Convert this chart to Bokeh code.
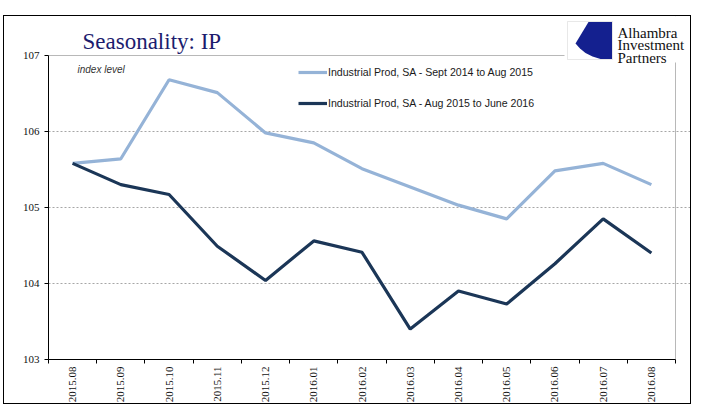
import numpy as np
from bokeh.plotting import figure
from bokeh.models import (FixedTicker, Range1d, Label, Legend, LegendItem,
                          PolyAnnotation, ColumnDataSource, Grid)
from bokeh.embed import file_html
from bokeh.resources import INLINE

# ---- data ----
months = ["2015.08", "2015.09", "2015.10", "2015.11", "2015.12", "2016.01",
          "2016.02", "2016.03", "2016.04", "2016.05", "2016.06", "2016.07", "2016.08"]
ip_sep14_aug15 = [105.58, 105.64, 106.68, 106.51, 105.98, 105.85, 105.51,
                  105.27, 105.03, 104.85, 105.48, 105.58, 105.30]
ip_aug15_jun16 = [105.58, 105.30, 105.17, 104.49, 104.04, 104.56, 104.41,
                  103.40, 103.90, 103.73, 104.26, 104.85, 104.40]
y_ticks = [103, 104, 105, 106, 107]
series_names = ["Industrial Prod, SA - Sept 2014 to Aug 2015",
                "Industrial Prod, SA - Aug 2015 to June 2016"]

n = len(months)
centers = [i + 0.5 for i in range(n)]
bounds = list(range(n + 1))

src = ColumnDataSource(dict(x=centers, a=ip_sep14_aug15, b=ip_aug15_jun16))

# layout (pixels)
W, H = 688, 389
left_b, bottom_b = 44, 45
plot_w, plot_h = 627, 305          # visible plot area (axes extent)
frame_w, frame_h = W - left_b, H - bottom_b
x_end = n * frame_w / plot_w
y_end = y_ticks[0] + (y_ticks[-1] - y_ticks[0]) * frame_h / plot_h

p = figure(width=W, height=H, output_backend="svg", toolbar_location=None,
           x_range=Range1d(0, x_end), y_range=Range1d(y_ticks[0], y_end),
           min_border_left=left_b, min_border_right=0, min_border_top=0,
           min_border_bottom=bottom_b, background_fill_color="white",
           border_fill_color="white", outline_line_color=None)
p.styles = {"margin-left": "3px", "margin-top": "15px", "border": "1px solid black"}

light = "#95b3d7"
dark = "#1b3657"
r1 = p.line("x", "a", source=src, line_color=light, line_width=3.2)
r2 = p.line("x", "b", source=src, line_color=dark, line_width=3.2)

# axes
p.xaxis.bounds = (0, n)
p.xaxis.ticker = FixedTicker(ticks=centers, minor_ticks=bounds)
p.xaxis.major_label_overrides = {c: m for c, m in zip(centers, months)}
p.xaxis.major_label_orientation = np.pi / 2
p.xaxis.major_tick_line_color = None
p.xaxis.major_tick_in = 0
p.xaxis.major_tick_out = 4
p.xaxis.minor_tick_in = 0
p.xaxis.minor_tick_out = 4
p.xaxis.minor_tick_line_color = "black"
p.xaxis.major_label_standoff = 3
p.xaxis.axis_line_color = "black"
p.xaxis.major_label_text_font = "Liberation Serif"
p.xaxis.major_label_text_font_size = "11px"
p.xaxis.major_label_text_color = "#111111"

p.yaxis.bounds = (y_ticks[0], y_ticks[-1])
p.yaxis.ticker = FixedTicker(ticks=y_ticks)
p.yaxis.major_tick_in = 0
p.yaxis.major_tick_out = 4
p.yaxis.minor_tick_line_color = None
p.yaxis.axis_line_color = "black"
p.yaxis.major_label_standoff = 5
p.yaxis.major_label_text_font = "Liberation Serif"
p.yaxis.major_label_text_font_size = "11px"
p.yaxis.major_label_text_color = "#111111"

p.xgrid.ticker = FixedTicker(ticks=[n])
p.xgrid.grid_line_color = "#b8b8b8"
p.ygrid.ticker = FixedTicker(ticks=y_ticks[1:-1])
p.ygrid.grid_line_color = "#a6a6a6"
p.ygrid.grid_line_dash = "2 2"
p.ygrid.grid_line_width = 1
p.add_layout(Grid(dimension=1, ticker=FixedTicker(ticks=[y_ticks[-1]]),
                  grid_line_color="#b8b8b8"))

# legend
legend = Legend(items=[LegendItem(label=series_names[0], renderers=[r1]),
                       LegendItem(label=series_names[1], renderers=[r2])],
                location=(250, 246), orientation="vertical",
                glyph_width=29, glyph_height=20, label_height=20,
                label_standoff=1, spacing=11, padding=0, margin=0,
                border_line_color=None, background_fill_alpha=0,
                label_text_font="Liberation Sans", label_text_font_size="10.6px",
                label_text_color="#1a1a1a")
p.add_layout(legend)

# screen helpers: page px -> frame screen units (origin frame bottom-left)
def fx(px):
    return px - 48

def fy(py):
    return 360 - py

p.add_layout(Label(x=fx(82), y=fy(42), x_units="screen", y_units="screen",
                   text="Seasonality: IP", text_font="Liberation Serif",
                   text_font_size="23px", text_color="#1c1c6e",
                   text_baseline="alphabetic"))
p.add_layout(Label(x=fx(77), y=fy(70), x_units="screen", y_units="screen",
                   text="index level", text_font="Liberation Sans",
                   text_font_style="italic", text_font_size="10px",
                   text_color="#333333", text_baseline="alphabetic"))

# logo (decoration)
cover = PolyAnnotation(xs=[fx(564), fx(700), fx(700), fx(564)],
                       ys=[fy(10), fy(10), fy(63), fy(63)],
                       xs_units="screen", ys_units="screen",
                       fill_color="white", fill_alpha=1, line_color=None)
p.add_layout(cover)
sq = PolyAnnotation(xs=[fx(567), fx(612), fx(612), fx(567)],
                    ys=[fy(22), fy(22), fy(60), fy(60)],
                    xs_units="screen", ys_units="screen",
                    fill_color="white", fill_alpha=1, line_color="#b4b4b4",
                    line_width=1)
p.add_layout(sq)
mark_px = [(588, 22.5), (611.5, 22.5), (611.5, 59.5), (600, 59.5), (592, 57),
           (585, 53.5), (579.5, 49), (575, 44)]
mark = PolyAnnotation(xs=[fx(a) for a, b in mark_px], ys=[fy(b) for a, b in mark_px],
                      xs_units="screen", ys_units="screen",
                      fill_color="#14208f", fill_alpha=1, line_color=None)
p.add_layout(mark)
for i, word in enumerate(["Alhambra", "Investment", "Partners"]):
    p.add_layout(Label(x=fx(617), y=fy(33 + 12.5 * i), x_units="screen", y_units="screen",
                       text=word, text_font="Liberation Serif", text_font_size="15px",
                       text_color="#111111", text_baseline="alphabetic"))

open("out.html", "w").write(file_html(p, INLINE))
